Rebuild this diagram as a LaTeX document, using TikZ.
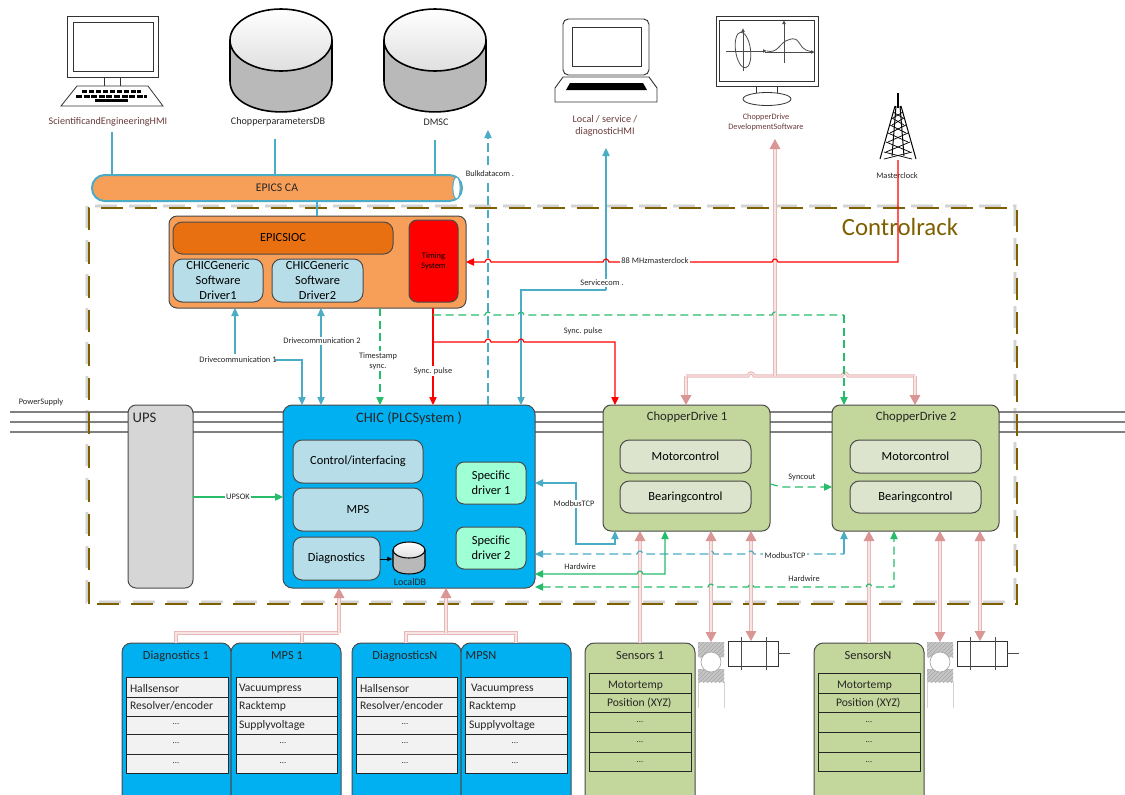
\documentclass[tikz,border=0pt]{standalone}
\usepackage{fontspec}
\setmainfont{Carlito}
\usetikzlibrary{arrows.meta,patterns,calc}
\definecolor{cblue}{HTML}{4BACC6}
\definecolor{cpink}{HTML}{E6B8B7}
\definecolor{cpinkin}{HTML}{F7E4E3}
\definecolor{cpinkh}{HTML}{D99694}
\definecolor{cgreen}{HTML}{00B050}
\definecolor{crack}{HTML}{7F6000}
\definecolor{corange}{HTML}{F79F58}
\definecolor{cdorange}{HTML}{E97010}
\definecolor{clight}{HTML}{B7DDE8}
\definecolor{ccyan}{HTML}{00B0F0}
\definecolor{cmint}{HTML}{9FFFD5}
\definecolor{colive}{HTML}{C3D69B}
\definecolor{colivel}{HTML}{DDE4CD}
\definecolor{cmaroon}{HTML}{6A3B3B}
\definecolor{cedge}{HTML}{4A4A4A}
\newcommand\fs[2]{\fontsize{#1}{#2}\selectfont}
\newcommand\bx[7][]{%
  \pgfmathsetmacro\bxw{(#5-#3)*0.75}%
  \pgfmathsetmacro\bxh{(#6-#4)*0.75}%
  \node[boxbase,#1,minimum width=\bxw pt,minimum height=\bxh pt] (#2) at ({(#3+#5)/2},{(#4+#6)/2}) {#7};}
\newcommand\hopR[2]{-- ({#1-3},#2) .. controls ({#1-2},{#2-4}) and ({#1+2},{#2-4}) .. ({#1+3},#2)}
\newcommand\hopL[2]{-- ({#1+3},#2) .. controls ({#1+2},{#2-4}) and ({#1-2},{#2-4}) .. ({#1-3},#2)}
\newcommand\dbcyl[6][1.2pt]{% cx, cy(top ellipse), rx, ry, height
  \fill[gray!55] ({#2-#4},#3) -- ({#2-#4},{#3+#6}) .. controls ({#2-#4},{#3+#6+1.33*#5}) and ({#2+#4},{#3+#6+1.33*#5}) .. ({#2+#4},{#3+#6}) -- ({#2+#4},#3) -- cycle;
  \draw[line width=#1] ({#2-#4},#3) -- ({#2-#4},{#3+#6}) .. controls ({#2-#4},{#3+#6+1.33*#5}) and ({#2+#4},{#3+#6+1.33*#5}) .. ({#2+#4},{#3+#6}) -- ({#2+#4},#3);
  \shade[top color=white,bottom color=gray!25] (#2,#3) ellipse[x radius=#4,y radius=#5];
  \draw[line width=#1] (#2,#3) ellipse[x radius=#4,y radius=#5];}
\tikzset{
  x=0.75pt,y=-0.75pt,
  boxbase/.style={draw=cedge,line width=0.75pt,inner sep=0pt,outer sep=0pt,align=center,rounded corners=6pt,font=\fs{9.3}{11.2}},
  inner/.style={fill=clight},
  sub/.style={fill=colivel},
  rowbox/.style={boxbase,rounded corners=0pt,draw=black!85,line width=0.6pt},
  txt/.style={inner sep=0pt,outer sep=0pt,align=center,text=black!85},
  small/.style={txt,font=\fs{6.3}{7.8}},
  mid/.style={txt,font=\fs{8.8}{10}},
  toplbl/.style={txt,font=\fs{7.6}{9}},
  wsmall/.style={small,fill=white,inner sep=1pt},
  cellt/.style={txt,font=\fs{8.7}{10},anchor=west},
  dotst/.style={txt,font=\fs{6.5}{7}},
  ttlt/.style={txt,font=\fs{9.3}{10}},
  atip/.tip={Triangle[length=6pt,width=5.5pt]},
  bl/.style={draw=cblue,line width=0.85pt},
  bld/.style={bl,dash pattern=on 6.5pt off 3.5pt},
  redl/.style={draw=red,line width=0.85pt},
  grn/.style={draw=cgreen!85!white,line width=0.85pt},
  grnd/.style={grn,dash pattern=on 6pt off 3.5pt},
  pinkl/.style={draw=cpink,double=cpinkin,line width=0.75pt,double distance=0.9pt},
  ptip/.tip={Triangle[length=7.5pt,width=8pt,color=cpinkh]},
  powerl/.style={draw=gray,line width=1pt},
}
\begin{document}
\begin{tikzpicture}
\useasboundingbox (0,0) rectangle (1125,794);
\clip (0,0) rectangle (1125,794);
\fill[white] (0,0) rectangle (1125,794);

% ---------- power lines
\coordinate (pl1) at (10,412); \coordinate (pr1) at (1125,412);
\coordinate (pl2) at (10,422); \coordinate (pr2) at (1125,422);
\coordinate (pl3) at (10,432); \coordinate (pr3) at (1125,432);
\draw[powerl] (pl1) -- (pr1); \draw[powerl] (pl2) -- (pr2); \draw[powerl] (pl3) -- (pr3);
\node[small] (powerlbl) at (41,402) {PowerSupply};

% ---------- rack frame
\draw[gray,opacity=.16,line width=3.6pt,dash pattern=on 16.5pt off 9pt] (87,206) rectangle (1015,602);
\draw[gray,opacity=.22,line width=2pt,dash pattern=on 16.5pt off 9pt] (87,206) rectangle (1015,602);
\draw[crack,line width=2pt,dash pattern=on 16.5pt off 9pt] (89,604) -- (89,208) -- (1017,208) -- (1017,604) -- cycle;
\node[txt,text=crack,font=\fs{18.6}{20}] (racklbl) at (900,227) {Controlrack};

% ---------- top icons
% HMI computer
\draw[line width=.75pt,draw=black!80] (67,16) rectangle (158,77) (73,22) rectangle (153,71);
\draw[line width=.6pt,draw=black!80] (104,77) -- (104,86) (120,77) -- (120,86);
\draw[line width=.6pt,draw=black!80] (77,86) -- (148,86) -- (163,106) -- (61,106) -- cycle;
\draw[line width=2.2pt,dash pattern=on 4pt off 1.2pt] (82,91.5) -- (141,91.5);
\draw[line width=2.2pt,dash pattern=on 4.5pt off 1.2pt] (76,96.5) -- (147,96.5);
\fill (95,99) rectangle (128,102);
\node[toplbl,text=cmaroon] (hmilbl) at (108,122) {ScientificandEngineeringHMI};
% DBs
\dbcyl{281}{40}{51}{31}{41}
\dbcyl{435}{40}{51}{31}{41}
\node[toplbl] (dblbl) at (278,122) {ChopperparametersDB};
\node[toplbl] (dmsclbl) at (436,122) {DMSC};
% laptop
\draw[line width=.7pt,draw=black!80,rounded corners=4pt] (563,75) -- (563,19) -- (649,19) -- (649,75) -- cycle;
\draw[line width=.6pt,draw=black!80] (572,27) rectangle (641,66);
\draw[line width=.7pt,draw=black!80] (563,77) -- (649,77) -- (657,88) -- (657,102) -- (555,102) -- (555,88) -- cycle;
\fill (570,83) -- (643,83) -- (647,90) -- (566,90) -- cycle;
\node[toplbl,text=cmaroon] (laplbl) at (605,126) {Local / service /\\diagnosticHMI};
% monitor
\draw[line width=.7pt,draw=black!80] (716,16) rectangle (818,86) (719.5,20.5) rectangle (814,81);
\draw[line width=.6pt,draw=black!80] (756,86) -- (756,96) (777,86) -- (777,96);
\draw[line width=.6pt,draw=black!80,fill=white] (767,99) ellipse[x radius=24,y radius=6.5];
\draw[line width=.6pt,draw=black!70,-{Latex[length=3pt,width=3pt]}] (726,51) -- (767,51);
\draw[line width=.6pt,draw=black!70,-{Latex[length=3pt,width=3pt]}] (743,71) -- (743,28);
\draw[line width=.6pt,draw=black!70,rotate around={8:(743,50)}] (743,50) ellipse[x radius=7.5,y radius=18];
\draw[line width=.6pt,draw=black!70,-{Latex[length=3pt,width=3pt]}] (765,52) -- (815,52);
\draw[line width=.6pt,draw=black!70,-{Latex[length=3pt,width=3pt]}] (784,63) -- (784,20);
\draw[line width=.6pt,draw=black!70] (767,51) .. controls (778,54) and (780,42) .. (788,40) .. controls (796,37) and (797,40) .. (800,44) .. controls (803,50) and (808,51) .. (813,52);
\node[txt,text=cmaroon,font=\fs{6.2}{7.5}] (devlbl) at (766,122) {ChopperDrive\\DevelopmentSoftware};
% tower
\coordinate (towertop) at (898,160);
\draw[line width=.9pt] (898,93) -- (898,108);
\draw[line width=.75pt] (895,106) -- (880,159) (901,106) -- (916,159) (896,106) -- (892,156) (900,106) -- (904,156);
\foreach \ya/\xa/\yb/\xb in {112/893/118/903,112/903/118/893,118/892/125/904,118/904/125/892,125/890/133/906,125/906/133/890,133/888/142/908,133/908/142/888,142/886/152/910,142/910/152/886,152/884/159/912,152/912/159/884}
  \draw[line width=.55pt] (\xa,\ya) -- (\xb,\yb);
\node[small] (clocklbl) at (897,176) {Masterclock};

% ---------- EPICS CA tube
\bx[fill=corange,draw=cblue,line width=1.5pt,rounded corners=9.5pt]{epics}{92}{175}{462}{201}{}
\draw[draw=cblue,fill=white,line width=.8pt] (456.5,188) ellipse[x radius=3.7,y radius=11];
\node[mid] (epicslbl) at (277,188) {EPICS CA};

% ---------- IOC
\bx[fill=corange,rounded corners=6pt]{ioc}{169}{216}{466}{308}{}
\bx[fill=cdorange,rounded corners=7pt]{iocin}{173}{222}{393}{254}{EPICSIOC}
\bx[fill=red,font=\fs{6.3}{7.5},rounded corners=6pt]{timing}{409}{220}{458}{302}{Timing\\System}
\bx[inner,rounded corners=7pt]{drv1}{173}{259}{263}{302}{CHICGeneric\\Software\\Driver1}
\bx[inner,rounded corners=7pt]{drv2}{272}{259}{363}{302}{CHICGeneric\\Software\\Driver2}

% ---------- main row
\bx[fill=gray!32,rounded corners=6pt]{ups}{128}{405}{193}{588}{}
\node[txt,font=\fs{11}{12}] (upslbl) at (144.5,418) {UPS};
\bx[fill=ccyan,rounded corners=7pt]{chic}{283}{405}{535}{588}{}
\node[txt,font=\fs{10.8}{12}] (chiclbl) at (409,418) {CHIC (PLCSystem )};
\bx[inner,rounded corners=7pt]{ctrl}{293}{440}{423}{483}{Control/interfacing}
\bx[inner,rounded corners=7pt]{mps}{293}{488}{423}{531}{MPS}
\bx[inner,rounded corners=7pt]{diag}{293}{537}{380}{580}{Diagnostics}
\bx[fill=cmint,rounded corners=6pt]{spec1}{456}{462}{526}{504}{Specific\\driver 1}
\bx[fill=cmint,rounded corners=6pt]{spec2}{456}{527}{526}{569}{Specific\\driver 2}
\dbcyl[.8pt]{409}{550}{16}{8}{16}
\coordinate (ldb) at (392,559);
\node[txt,font=\fs{7.5}{8}] (ldblbl) at (410,582) {LocalDB};
\draw[line width=.6pt,-{Triangle[length=3.5pt,width=3.5pt]}] (diag.east |- ldb) -- (ldb);

\bx[fill=colive]{cd1}{603}{405}{770}{531}{}
\node[txt,font=\fs{9.5}{11}] (cd1lbl) at (687,417) {ChopperDrive 1};
\bx[sub,rounded corners=7pt]{mc1}{620}{440}{751}{473}{Motorcontrol}
\bx[sub,rounded corners=7pt]{bc1}{620}{481}{751}{513}{Bearingcontrol}
\bx[fill=colive]{cd2}{832}{405}{999}{531}{}
\node[txt,font=\fs{9.5}{11}] (cd2lbl) at (916,417) {ChopperDrive 2};
\bx[sub,rounded corners=7pt]{mc2}{850}{440}{981}{473}{Motorcontrol}
\bx[sub,rounded corners=7pt]{bc2}{850}{481}{981}{513}{Bearingcontrol}

% ---------- bottom boxes
\bx[fill=ccyan,rounded corners=7pt]{d1}{122}{643}{231}{806}{}
\bx[fill=ccyan,rounded corners=7pt]{m1}{231}{643}{341}{806}{}
\bx[fill=ccyan,rounded corners=7pt]{dn}{352}{643}{461}{806}{}
\bx[fill=ccyan,rounded corners=7pt]{mn}{461}{643}{571}{806}{}
\bx[fill=colive,rounded corners=7pt]{s1}{585}{643}{695}{806}{}
\bx[fill=colive,rounded corners=7pt]{sn}{814}{643}{924}{806}{}
\foreach \nm/\xa/\xb in {dr/126/228,mr/236/337,er/356/457,fr/465/567}{
  \foreach \rw/\ya/\yb in {1/677/697,2/697/716,3/716/734,4/734/754,5/754/773}{
    \bx[rowbox,fill=black!5]{\nm\rw}{\xa}{\ya}{\xb}{\yb}{}
  }
}
\foreach \nm/\xa/\xb in {sr/589/691,tr/818/920}{
  \foreach \rw/\ya/\yb in {1/673/693,2/693/712,3/712/732,4/732/752,5/752/771}{
    \bx[rowbox,fill=colive]{\nm\rw}{\xa}{\ya}{\xb}{\yb}{}
  }
}
\node[ttlt] (d1t) at (176,656) {Diagnostics 1};
\node[ttlt] (m1t) at (287,656) {MPS 1};
\node[ttlt] (dnt) at (405,656) {DiagnosticsN};
\node[ttlt] (mnt) at (481,656) {MPSN};
\node[ttlt] (s1t) at (640,656) {Sensors 1};
\node[ttlt] (snt) at (868,656) {SensorsN};
\node[cellt] (c1) at (130,689) {Hallsensor};
\node[cellt] (c2) at (130,706) {Resolver/encoder};
\node[cellt] (c3) at (239,689) {Vacuumpress};
\node[cellt] (c4) at (239,706) {Racktemp};
\node[cellt] (c5) at (239,725) {Supplyvoltage};
\node[cellt] (c6) at (360,689) {Hallsensor};
\node[cellt] (c7) at (360,706) {Resolver/encoder};
\node[cellt] (c8) at (471,689) {Vacuumpress};
\node[cellt] (c9) at (469,706) {Racktemp};
\node[cellt] (c10) at (469,725) {Supplyvoltage};
\node[cellt] (c11) at (608,686) {Motortemp};
\node[cellt] (c12) at (607,703) {Position (XYZ)};
\node[cellt] (c13) at (837,686) {Motortemp};
\node[cellt] (c14) at (836,703) {Position (XYZ)};
\foreach \nn/\xx/\yy in {a/176/724,b/176/743,c/176/763,e/283/743,f/283/763,g/405/724,h/405/743,i/405/763,j/515/743,k/515/763,l/640/722,m/640/742,n/640/762,o/869/722,p/869/742,q/869/762}{
  \node[dotst] (dot\nn) at (\xx,\yy) {...};
}

% ---------- bearings and actuators
\foreach \nm/\xa in {1/698,2/927}{
  \pgfmathsetmacro\xe{\xa+26}
  \pgfmathsetmacro\xc{\xa+13}
  \bx[draw=none,fill=none,rounded corners=0pt]{bear\nm}{\xa}{642}{\xe}{682}{}
  \fill[gray!45] (\xa,642) rectangle (\xe,657) (\xa,669) rectangle (\xe,682);
  \fill[pattern=north east lines,pattern color=gray!70] (\xa,642) rectangle (\xe,657);
  \fill[pattern=north east lines,pattern color=gray!70] (\xa,669) rectangle (\xe,682);
  \draw[gray!70,line width=.5pt,fill=white] (\xc,662) circle[radius=10];
  \draw[gray!35,line width=.5pt] (\xa,682) -- (\xa,708) (\xe,682) -- (\xe,708);
}
\foreach \nm/\xa in {1/728,2/957}{
  \pgfmathsetmacro\xe{\xa+50}
  \pgfmathsetmacro\xc{\xa+13}
  \pgfmathsetmacro\xd{\xa+38}
  \pgfmathsetmacro\xf{\xa+62}
  \bx[rowbox,fill=white,draw=black!80]{act\nm}{\xa}{641}{\xe}{666}{}
  \draw[line width=.6pt,draw=black!70] (\xc,637) -- (\xc,670) (\xd,637) -- (\xd,670) (\xe,653) -- (\xf,653);
}

% ---------- pink connectors
\coordinate (pbusL) at (686,376); \coordinate (pbusR) at (915,376); \coordinate (pjoin) at (775,376); \coordinate (pdev) at (775,139);
\draw[pinkl,-{ptip}] (pbusL) -- (pbusL |- cd1.north);
\draw[pinkl] (pbusL) \hopR{751}{376} -- (pjoin) \hopR{845}{376} -- (pbusR);
\draw[pinkl,-{ptip}] (pbusR) -- (pbusR |- cd2.north);
\draw[pinkl,-{ptip}] (pjoin) -- (pdev);
\coordinate (pa) at (339,633); \coordinate (pb) at (446,633);
\draw[pinkl] (d1.north -| 176,0) -- (176,633) -- (pa);
\draw[pinkl] (m1.north -| 302,0) -- (302,633);
\draw[pinkl,-{ptip}] (pa) -- (pa |- chic.south);
\draw[pinkl] (dn.north -| 406,0) -- (406,633) -- (516,633) -- (mn.north -| 516,0);
\draw[pinkl,-{ptip}] (pb) -- (pb |- chic.south);
\draw[pinkl,-{ptip}] (s1.north -| 640,0) -- (640,0 |- cd1.south);
\draw[pinkl,-{ptip}] (sn.north -| 869,0) -- (869,0 |- cd2.south);
\draw[pinkl,{ptip}-{ptip}] (711,0 |- cd1.south) -- (711,0 |- bear1.north);
\draw[pinkl,{ptip}-{ptip}] (751,0 |- cd1.south) -- (751,0 |- act1.north);
\draw[pinkl,{ptip}-{ptip}] (940,0 |- cd2.south) -- (940,0 |- bear2.north);
\draw[pinkl,{ptip}-{ptip}] (980,0 |- cd2.south) -- (980,0 |- act2.north);

% ---------- blue connectors
\coordinate (hmiend) at (112,132); \coordinate (dbend) at (275,139); \coordinate (dmscend) at (435,140);
\draw[bl] (hmiend) -- (hmiend |- epics.north);
\draw[bl] (dbend) -- (dbend |- epics.north);
\draw[bl] (dmscend) -- (dmscend |- epics.north);
\draw[bl] (317,0 |- epics.south) -- (317,0 |- ioc.north);
\coordinate (dc1) at (235,354); \coordinate (dc1r) at (275,360); \coordinate (dc1b) at (302,360);
\draw[bl,-{atip}] (dc1) -- (dc1 |- ioc.south);
\draw[bl,-{atip}] (dc1r) -- (dc1b) -- (dc1b |- chic.north);
\draw[bl,{atip}-{atip}] (321,0 |- ioc.south) -- (321,0 |- chic.north);
\coordinate (bulktop) at (488,130);
\draw[bld,-{atip}] (bulktop |- chic.north) -- (bulktop);
\coordinate (svcA) at (606,290); \coordinate (svcB) at (521,290); \coordinate (svcT) at (606,148);
\draw[bl,-{atip}] (svcA) -- (svcT);
\draw[bl,-{atip}] (svcA) -- (svcB) -- (svcB |- chic.north);
\coordinate (mbtop) at (576,483); \coordinate (mbbot) at (576,544); \coordinate (mbend) at (615,544);
\draw[bl,{atip}-{atip}] (chic.east |- mbtop) -- (mbtop) -- (mbbot) -- (mbend) -- (mbend |- cd1.south);
\coordinate (mb2) at (844,554);
\draw[bld,{atip}-] (chic.east |- mb2) \hopR{640}{554} \hopR{711}{554} \hopR{751}{554} -- (mb2);
\draw[bl,-{atip}] (mb2) -- (mb2 |- cd2.south);

% ---------- red connectors
\coordinate (syncx) at (433,342); \coordinate (syncr) at (615,342); \coordinate (clockc) at (898,262);
\draw[redl,-{atip}] (433,0 |- ioc.south) -- (433,0 |- chic.north);
\draw[redl,-{atip}] (syncx) \hopR{488}{342} \hopR{521}{342} -- (syncr) -- (syncr |- cd1.north);
\draw[redl,-{atip}] (towertop) -- (clockc) \hopL{775}{262} \hopL{606}{262} \hopL{488}{262} -- (ioc.east |- clockc);

% ---------- green connectors
\coordinate (gstart) at (433,315); \coordinate (gcorner) at (844,315);
\draw[grnd,-{atip}] (380,0 |- ioc.south) -- (380,0 |- chic.north);
\draw[grnd] (gstart) \hopR{488}{315} \hopR{521}{315} \hopR{775}{315} -- (gcorner);
\draw[grnd,-{atip}] (gcorner) -- (gcorner |- cd2.north);
\coordinate (upsy) at (0,497);
\draw[grn,-{atip}] (ups.east |- upsy) -- (chic.west |- upsy);
\coordinate (sy) at (0,487);
\draw[grnd,-{atip}] (cd1.east |- 0,484) -- (782,487) -- (cd2.west |- sy);
\coordinate (hw1) at (665,574);
\draw[grn,{atip}-{atip}] (chic.east |- hw1) \hopR{640}{574} -- (hw1) -- (hw1 |- cd1.south);
\coordinate (hw2) at (894,587);
\draw[grnd,{atip}-{atip}] (chic.east |- hw2) \hopR{711}{587} \hopR{751}{587} \hopR{869}{587} -- (hw2) -- (hw2 |- cd2.south);

% ---------- connector labels
\node[small] (dc1lbl) at (238,360) {Drivecommunication 1};
\node[wsmall] (dc2lbl) at (322,341) {Drivecommunication 2};
\node[wsmall] (tslbl) at (378,361) {Timestamp\\sync.};
\node[wsmall] (sp1lbl) at (433,371) {Sync. pulse};
\node[small] (sp2lbl) at (583,331) {Sync. pulse};
\node[wsmall] (bulklbl) at (490,174) {Bulkdatacom .};
\node[wsmall] (svclbl) at (602,283) {Servicecom .};
\node[wsmall] (mclbl) at (655,261) {88 MHzmasterclock};
\node[wsmall] (upsok) at (238,497) {UPSOK};
\node[wsmall] (mblbl) at (574,504) {ModbusTCP};
\node[wsmall] (mb2lbl) at (785,556) {ModbusTCP};
\node[small] (hwlbl) at (580,567) {Hardwire};
\node[small] (hw2lbl) at (804,579) {Hardwire};
\node[small] (sylbl) at (802,477) {Syncout};
\end{tikzpicture}
\end{document}
